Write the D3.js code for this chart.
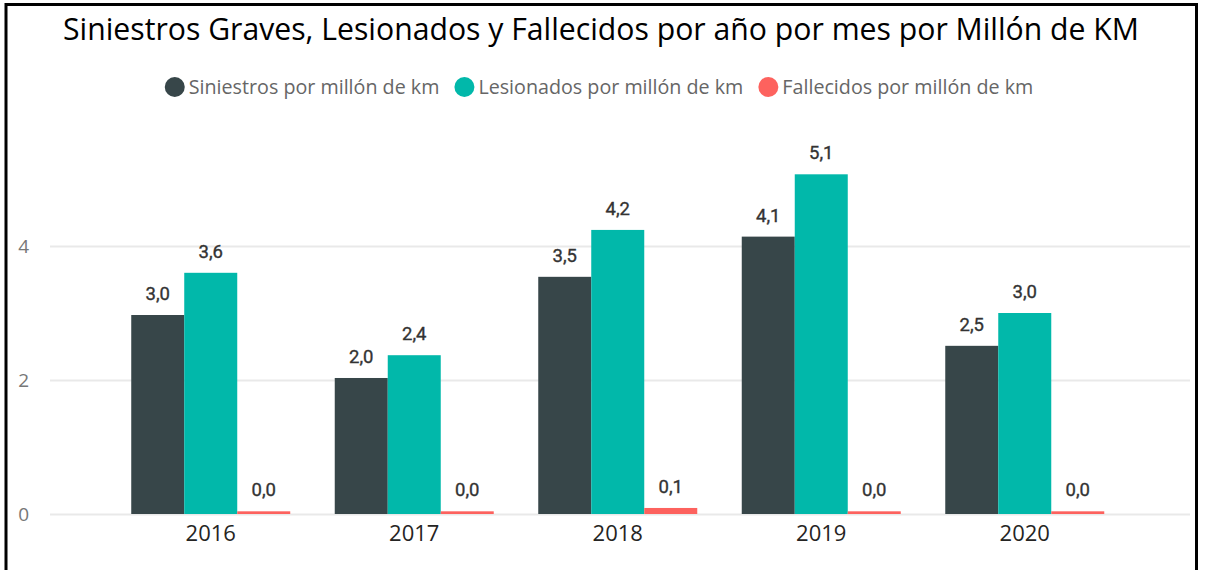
<!DOCTYPE html>
<html>
<head>
<meta charset="utf-8">
<script src="https://cdn.jsdelivr.net/npm/d3@7"></script>
<style>
  body { margin: 0; background: #fff; }
  svg { display: block; }
</style>
</head>
<body>
<svg width="1210" height="570"></svg>
<script>
// data
var years = ["2016", "2017", "2018", "2019", "2020"];
var seriesNames = ["Siniestros por millón de km", "Lesionados por millón de km", "Fallecidos por millón de km"];
var siniestros = [2.97, 2.03, 3.54, 4.14, 2.51];
var lesionados = [3.60, 2.37, 4.24, 5.07, 3.00];
var fallecidos = [0.04, 0.04, 0.09, 0.04, 0.04];
var yTicks = [0, 2, 4];

var colors = ["#374649", "#01B8AA", "#FD625E"];
var allSeries = [siniestros, lesionados, fallecidos];

var svg = d3.select("svg");

// frame (no bottom edge visible in the original)
svg.append("path")
    .attr("d", "M6,600 L6,4.5 L1196.5,4.5 L1196.5,600")
    .attr("fill", "none")
    .attr("stroke", "#000")
    .attr("stroke-width", 3);

// title
svg.append("text")
    .attr("x", 601)
    .attr("y", 40)
    .attr("text-anchor", "middle")
    .attr("font-family", "'Open Sans', sans-serif")
    .attr("font-size", 30.2)
    .attr("fill", "#000")
    .text("Siniestros Graves, Lesionados y Fallecidos por año por mes por Millón de KM");

// scales
var left = 50, right = 1190;
var y = d3.scaleLinear()
    .domain([0, 1])
    .range([514, 447]);

var x0 = d3.scaleBand()
    .domain(years)
    .range([109, 1126.5])
    .paddingInner(0.2187)
    .paddingOuter(0.1093);

var x1 = d3.scaleBand()
    .domain(seriesNames)
    .range([0, x0.bandwidth()])
    .padding(0);

var z = d3.scaleOrdinal().domain(seriesNames).range(colors);

// y axis + gridlines
var yAx = svg.append("g")
    .attr("transform", "translate(" + left + ",0)")
    .call(d3.axisLeft(y).tickValues(yTicks).tickSize(-(right - left)).tickPadding(21).tickFormat(d3.format("d")));
yAx.select(".domain").remove();
yAx.selectAll(".tick line").attr("stroke", "#e9e9e9").attr("stroke-width", 2);
yAx.selectAll(".tick text")
    .attr("font-family", "'Open Sans', sans-serif")
    .attr("font-size", 19)
    .attr("fill", "#777");

// x axis
var xAx = svg.append("g")
    .attr("transform", "translate(0,514)")
    .call(d3.axisBottom(x0).tickSize(0).tickPadding(11));
xAx.select(".domain").remove();
xAx.selectAll(".tick text")
    .attr("font-family", "'Open Sans', sans-serif")
    .attr("font-size", 22)
    .attr("fill", "#252423")
    .attr("dy", "0.71em");

// bars
var rows = years.map(function(yr, i) {
  return { year: yr, vals: seriesNames.map(function(s, j) { return { key: s, value: allSeries[j][i] }; }) };
});

var groups = svg.append("g").selectAll("g")
    .data(rows)
    .enter().append("g")
    .attr("transform", function(d) { return "translate(" + x0(d.year) + ",0)"; });

groups.selectAll("rect")
    .data(function(d) { return d.vals; })
    .enter().append("rect")
    .attr("x", function(d) { return x1(d.key); })
    .attr("y", function(d) { return y(d.value); })
    .attr("width", x1.bandwidth())
    .attr("height", function(d) { return y(0) - y(d.value); })
    .attr("fill", function(d) { return z(d.key); });

var fmt = function(v) { return v.toFixed(1).replace(".", ","); };
groups.selectAll("text")
    .data(function(d) { return d.vals; })
    .enter().append("text")
    .attr("x", function(d) { return x1(d.key) + x1.bandwidth() / 2; })
    .attr("y", function(d) { return y(d.value) - 15; })
    .attr("text-anchor", "middle")
    .attr("font-family", "Roboto, sans-serif")
    .attr("font-size", 18.5)
    .attr("fill", "#333")
    .attr("stroke", "#333")
    .attr("stroke-width", 0.35)
    .text(function(d) { return fmt(d.value); });

// legend, centred
var legend = svg.append("g").attr("font-family", "'Open Sans', sans-serif").attr("font-size", 19.7);
var items = legend.selectAll("g").data(seriesNames).enter().append("g");
items.append("circle").attr("r", 10).attr("cy", 87).attr("fill", function(d) { return z(d); });
items.append("text").attr("y", 94).attr("fill", "#666").text(function(d) { return d; });

var pos = 0, offs = [];
items.each(function() {
  var w = d3.select(this).select("text").node().getComputedTextLength();
  offs.push(pos);
  pos += 20 + 4 + w + 15;
});
var total = pos - 15;
var start = 599 - total / 2;
items.each(function(d, i) {
  var g = d3.select(this);
  g.select("circle").attr("cx", start + offs[i] + 10);
  g.select("text").attr("x", start + offs[i] + 24);
});
</script>
</body>
</html>
